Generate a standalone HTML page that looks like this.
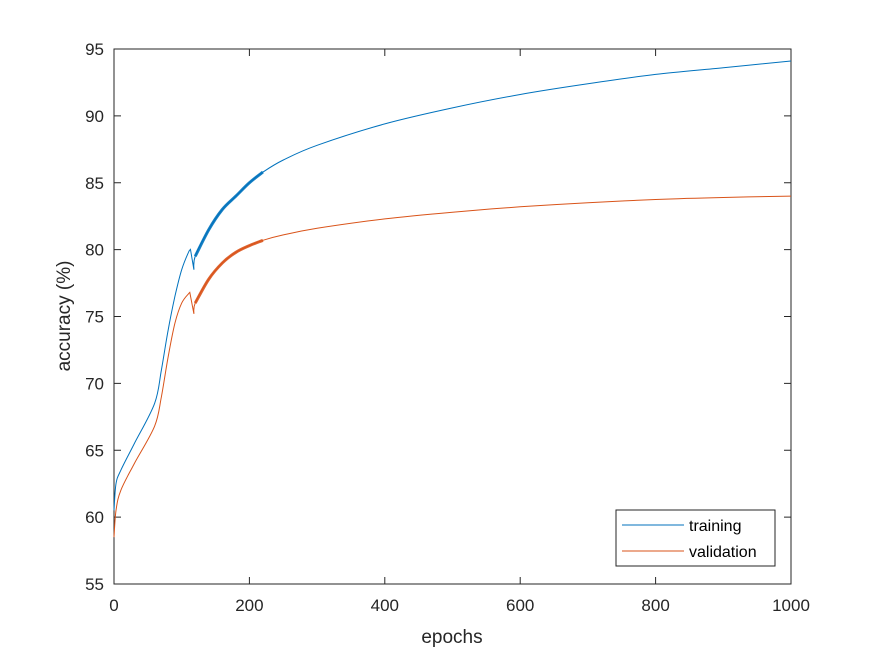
<!DOCTYPE html>
<html><head><meta charset="utf-8"><style>
body{margin:0;background:#fff;}
svg{display:block;font-family:"Liberation Sans",Arial,sans-serif;}
</style></head><body>
<svg id="chart" width="875" height="656">
<rect x="0" y="0" width="875" height="656" fill="#fff"/>
<rect x="114" y="49" width="677" height="535" fill="#fff" stroke="#262626" stroke-width="1"/>
<g id="ticks"></g>
<g id="series"></g>
<text x="452" y="643" text-anchor="middle" font-size="19" fill="#262626">epochs</text>
<text transform="translate(70,316) rotate(-90)" text-anchor="middle" font-size="19" fill="#262626">accuracy (%)</text>
<g>
<rect x="616" y="510" width="159" height="56" fill="#fff" stroke="#262626" stroke-width="1"/>
<line x1="622" y1="525" x2="684" y2="525" stroke="#0072BD" stroke-width="1"/>
<text x="689" y="531" font-size="16" fill="#000">training</text>
<line x1="622" y1="551" x2="684" y2="551" stroke="#D95319" stroke-width="1"/>
<text x="689" y="557" font-size="16" fill="#000">validation</text>
</g>
</svg>
<script>
const xTicks=[0,200,400,600,800,1000];
const yTicks=[55,60,65,70,75,80,85,90,95];
const trainEpochs=[0,3,10,30,60,70,80,90,100,110,113,118,120,140,160,180,200,220,250,300,400,500,600,700,800,900,1000];
const trainAcc=[60.5,62.5,63.5,65.5,68.5,71,74,76.5,78.5,79.8,80,78.5,79.5,81.5,83,84,85,85.8,86.7,87.8,89.4,90.6,91.6,92.4,93.1,93.6,94.1];
const valEpochs=[0,3,10,30,60,70,80,90,100,110,112,118,120,140,160,180,200,220,250,300,400,500,600,700,800,900,1000];
const valAcc=[58.5,60.5,62,64,66.8,69,72,74.5,76,76.7,76.8,75.2,76,77.8,79,79.8,80.3,80.7,81.1,81.6,82.3,82.8,83.2,83.5,83.75,83.9,84];
const NS="http://www.w3.org/2000/svg";
const X=e=>114+e*0.677, Y=v=>584-(v-55)*13.375;
const tg=document.getElementById('ticks'), sg=document.getElementById('series');
function mk(tag,attrs,parent){const el=document.createElementNS(NS,tag);for(const k in attrs)el.setAttribute(k,attrs[k]);parent.appendChild(el);return el;}
xTicks.forEach(t=>{
  mk('line',{x1:X(t),x2:X(t),y1:584,y2:577,stroke:'#262626'},tg);
  mk('line',{x1:X(t),x2:X(t),y1:49,y2:56,stroke:'#262626'},tg);
  const tx=mk('text',{x:X(t),y:611,'text-anchor':'middle','font-size':17,fill:'#262626'},tg);
  tx.textContent=t;
  
  
});
yTicks.forEach(t=>{
  mk('line',{x1:114,x2:121,y1:Y(t),y2:Y(t),stroke:'#262626'},tg);
  mk('line',{x1:791,x2:784,y1:Y(t),y2:Y(t),stroke:'#262626'},tg);
  const tx=mk('text',{x:104,y:Y(t)+6,'text-anchor':'end','font-size':17,fill:'#262626'},tg);
  tx.textContent=t;
  
  
});
function smooth(pts){
  let d='M'+pts[0][0].toFixed(1)+','+pts[0][1].toFixed(1);
  for(let i=0;i<pts.length-1;i++){
    const p0=pts[Math.max(i-1,0)],p1=pts[i],p2=pts[i+1],p3=pts[Math.min(i+2,pts.length-1)];
    const c1=[p1[0]+(p2[0]-p0[0])/6,p1[1]+(p2[1]-p0[1])/6];
    const c2=[p2[0]-(p3[0]-p1[0])/6,p2[1]-(p3[1]-p1[1])/6];
    d+='C'+c1[0].toFixed(1)+','+c1[1].toFixed(1)+' '+c2[0].toFixed(1)+','+c2[1].toFixed(1)+' '+p2[0].toFixed(1)+','+p2[1].toFixed(1);
  }
  return d;
}
function draw(ep,acc,color,name){
  const pts=ep.map((e,i)=>[X(e),Y(acc[i])]);
  // split at dip so the sawtooth stays sharp
  const dip=ep.findIndex((e,i)=>i>0&&acc[i]<acc[i-1]);
  const d=smooth(pts.slice(0,dip))+' L'+pts[dip][0].toFixed(1)+','+pts[dip][1].toFixed(1)+' '+smooth(pts.slice(dip)).replace('M','L');
  const p=mk('path',{d:d,fill:'none',stroke:color,'stroke-width':1},sg);
  
  
  const bp=pts.filter((q,i)=>ep[i]>=120&&ep[i]<=220);
  const b=mk('path',{d:smooth(bp),fill:'none',stroke:color,'stroke-width':3,opacity:0.9},sg);
  
  
}
draw(trainEpochs,trainAcc,'#0072BD','training');
draw(valEpochs,valAcc,'#D95319','validation');
</script>
</body></html>
